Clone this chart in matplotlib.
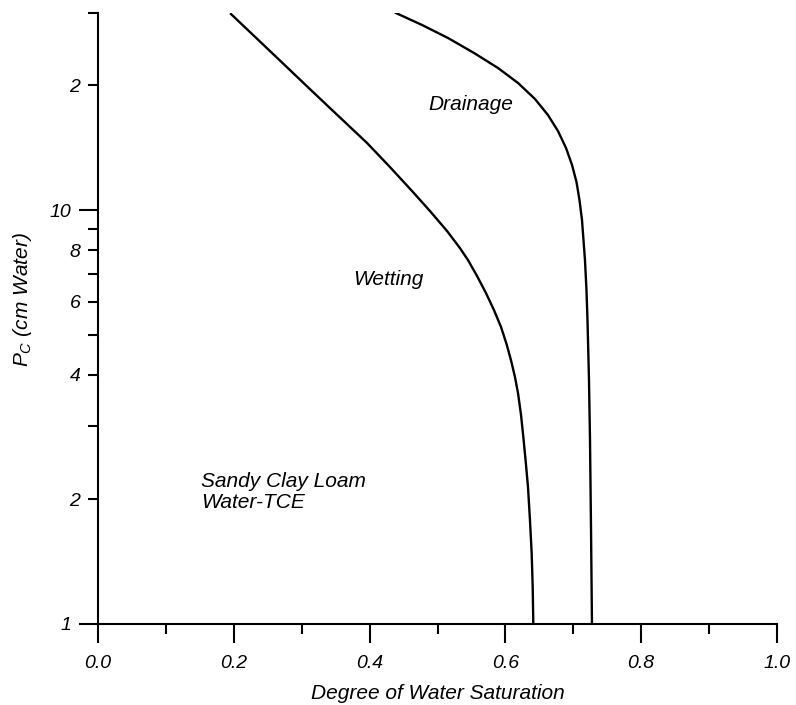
import matplotlib
matplotlib.use("Agg")
import matplotlib.pyplot as plt

plt.rcParams["font.family"] = ["Liberation Sans", "DejaVu Sans"]
plt.rcParams["font.style"] = "italic"
plt.rcParams["mathtext.fontset"] = "custom"
plt.rcParams["mathtext.it"] = "Liberation Sans:italic"
plt.rcParams["mathtext.rm"] = "Liberation Sans:italic"

# Capillary pressure – saturation curves (sandy clay loam, water-TCE)
wetting_sat = [0.1959, 0.2563, 0.3166, 0.3564, 0.3962, 0.4300, 0.4639,
               0.4890, 0.5140, 0.5331, 0.5449, 0.5582, 0.5714, 0.5832,
               0.5935, 0.6016, 0.6082, 0.6141, 0.6186, 0.6230, 0.6264,
               0.6300, 0.6333, 0.6362, 0.6387, 0.6402, 0.6411]
wetting_pc = [29.74, 23.95, 19.28, 16.73, 14.52, 12.70, 11.05,
              9.94, 8.90, 8.09, 7.57, 6.93, 6.30, 5.73,
              5.22, 4.75, 4.34, 3.95, 3.61, 3.20, 2.83,
              2.46, 2.14, 1.78, 1.48, 1.23, 1.0]

drainage_sat = [0.4389, 0.4772, 0.5155, 0.5538, 0.5891, 0.6186, 0.6436,
                0.6627, 0.6775, 0.6893, 0.6981, 0.7047, 0.7091, 0.7128,
                0.7150, 0.7172, 0.7194, 0.7209, 0.7231, 0.7246, 0.7261,
                0.7275]
drainage_pc = [29.91, 27.99, 26.03, 23.95, 22.03, 20.27, 18.54,
               16.96, 15.51, 14.12, 12.85, 11.69, 10.57, 9.46,
               8.46, 7.57, 6.41, 5.42, 3.89, 2.78, 1.69,
               1.0]

x_major = [0.0, 0.2, 0.4, 0.6, 0.8, 1.0]
x_major_labels = ["0.0", "0.2", "0.4", "0.6", "0.8", "1.0"]
x_minor = [0.1, 0.3, 0.5, 0.7, 0.9]
y_major = [1, 10]
y_major_labels = ["1", "10"]
y_minor = [2, 3, 4, 5, 6, 7, 8, 9, 20, 30]
y_minor_labels = ["2", "", "4", "", "6", "", "8", "", "2", ""]

fig = plt.figure(figsize=(7.96, 7.05), dpi=100)
ax = fig.add_axes([98 / 796, 1 - 624 / 705, 679 / 796, (624 - 12.5) / 705])

ax.plot(wetting_sat, wetting_pc, color="black", lw=1.7,
        solid_joinstyle="round")
ax.plot(drainage_sat, drainage_pc, color="black", lw=1.7,
        solid_joinstyle="round")

ax.set_yscale("log")
ax.set_xlim(0.0, 1.0)
ax.set_ylim(1, 30)

for side in ("top", "right"):
    ax.spines[side].set_visible(False)
for side in ("left", "bottom"):
    ax.spines[side].set_linewidth(1.5)

ax.set_xticks(x_major, x_major_labels)
ax.set_xticks(x_minor, minor=True)
ax.set_yticks(y_major, y_major_labels)
ax.set_yticks(y_minor, y_minor_labels, minor=True)

ax.tick_params(axis="both", which="major", length=13.7, width=1.5, labelsize=14)
ax.tick_params(axis="both", which="minor", length=7.2, width=1.5, labelsize=14)
ax.tick_params(axis="x", which="major", pad=8.5)
ax.tick_params(axis="y", which="both", pad=5.5)

ax.set_xlabel("Degree of Water Saturation", fontsize=15, labelpad=9)
fig.text(23 / 796, 1 - 300 / 705, "$P_C$ (cm Water)", rotation=90,
         ha="center", va="center", fontsize=15)

ax.text(0.486, 17.4, "Drainage", fontsize=15, ha="left", va="baseline")
ax.text(0.3755, 6.59, "Wetting", fontsize=15, ha="left", va="baseline")
ax.text(0.152, 2.14, "Sandy Clay Loam", fontsize=15, ha="left", va="baseline")
ax.text(0.152, 1.906, "Water-TCE", fontsize=15, ha="left", va="baseline")

fig.savefig("out.png", dpi=100)
